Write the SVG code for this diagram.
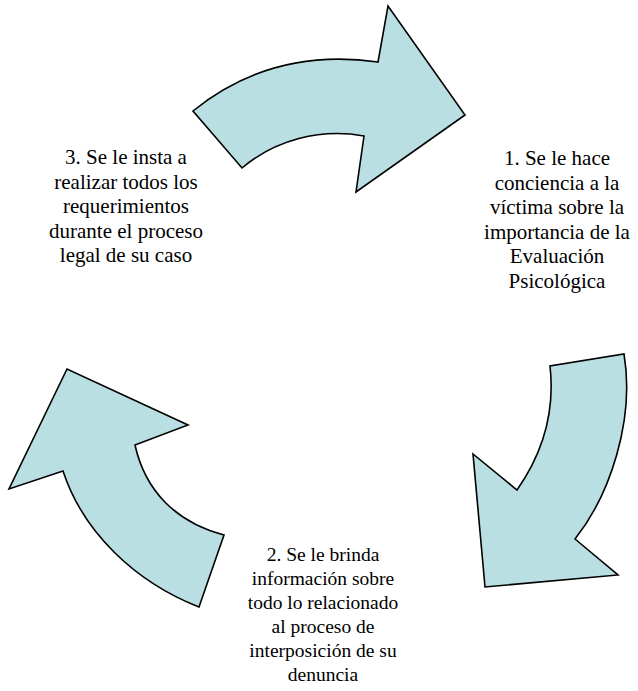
<svg xmlns="http://www.w3.org/2000/svg" width="638" height="691" viewBox="0 0 638 691">
<style>
.arrow{fill:#B9DFE3;stroke:#000;stroke-width:1.6;stroke-linejoin:miter}
.lbl{font-family:"Liberation Serif","Times New Roman",serif;fill:#000;text-anchor:middle}
.n1{font-size:21px}
.n2{font-size:19.5px}
.n3{font-size:21px}
</style>
<rect width="638" height="691" fill="#fff"/>
<g id="connectors">
<path id="arrow-top" class="arrow" d="M193,111 C240,73 300,51 378,62 L388,6 L465,115 L356,192 L364,136 C320,128 275,140 242,168 Z"/>
<path id="arrow-right" class="arrow" d="M624,354 C635,420 610,495 575,539 L618,575 L485,587 L473,454 L517,490 C545,450 555,410 550,366 Z"/>
<path id="arrow-left" class="arrow" d="M199,607 C135,582 83,532 63,471 L9,489 L67,369 L188,425 L135,445 C145,490 175,522 224,535 Z"/>
</g>
<g id="node1" class="lbl n1">
<text x="557" y="165">1. Se le hace</text>
<text x="557" y="189.5">conciencia a la</text>
<text x="557" y="214">víctima sobre la</text>
<text x="557" y="238.5">importancia de la</text>
<text x="557" y="263">Evaluación</text>
<text x="557" y="287.5">Psicológica</text>
</g>
<g id="node2" class="lbl n2">
<text x="323" y="561">2. Se le brinda</text>
<text x="323" y="585">información sobre</text>
<text x="323" y="609">todo lo relacionado</text>
<text x="323" y="633">al proceso de</text>
<text x="323" y="657">interposición de su</text>
<text x="323" y="681">denuncia</text>
</g>
<g id="node3" class="lbl n3">
<text x="126" y="164">3. Se le insta a</text>
<text x="126" y="188.5">realizar todos los</text>
<text x="126" y="213">requerimientos</text>
<text x="126" y="237.5">durante el proceso</text>
<text x="126" y="262">legal de su caso</text>
</g>
</svg>
